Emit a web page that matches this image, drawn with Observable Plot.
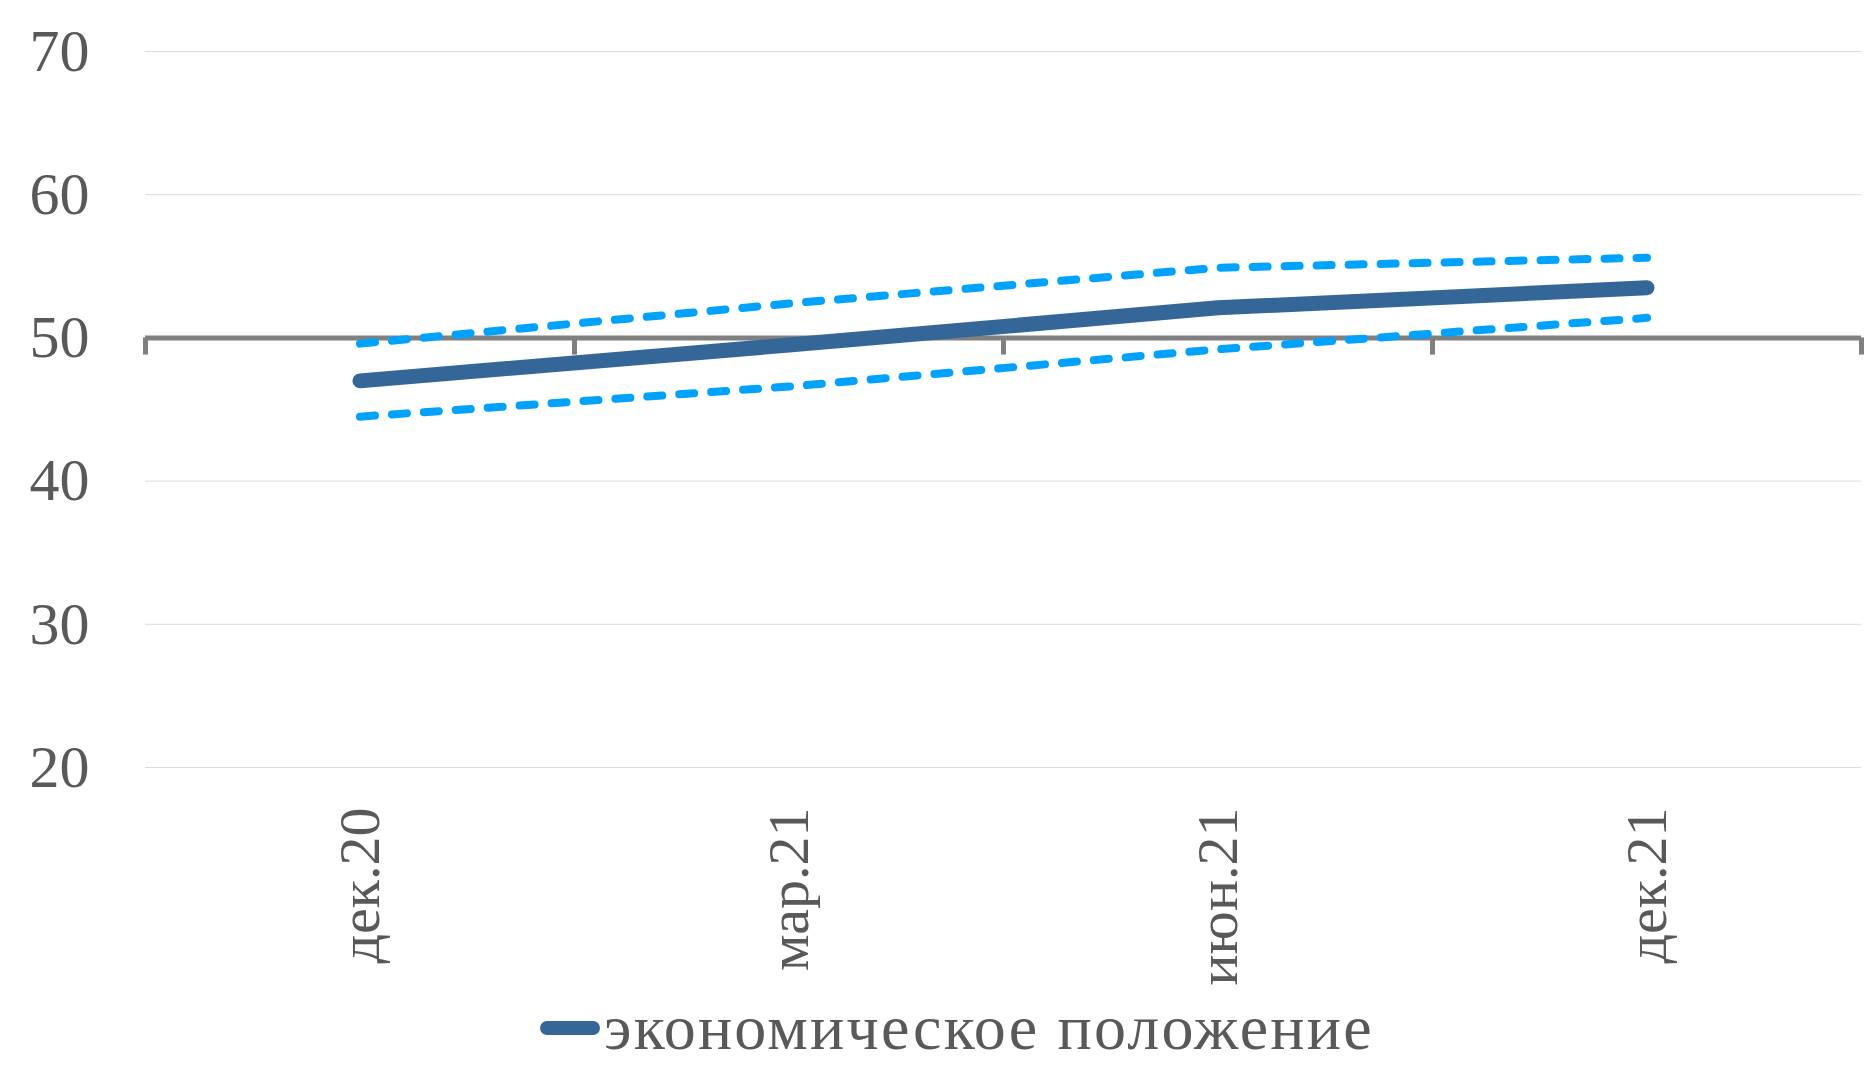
<!DOCTYPE html>
<html>
<head>
<meta charset="utf-8">
<script src="https://cdn.jsdelivr.net/npm/d3@7"></script>
<script src="https://cdn.jsdelivr.net/npm/@observablehq/plot@0.6"></script>
<style>
  html, body { margin: 0; padding: 0; background: #ffffff; }
  #chart { width: 1871px; }
  #legend { height: 76px; display: flex; align-items: center; padding-left: 540px;
            font-family: "Liberation Serif", serif; font-size: 64px; letter-spacing: 2.2px; color: #595959; line-height: 1; }
  #legend .sw { display: inline-block; width: 60px; height: 14px; border-radius: 7px; background: #356698; margin-right: 4px; }
</style>
</head>
<body>
<div id="chart"></div>
<div id="legend"><span class="sw"></span><span>экономическое положение</span></div>
<script>
const categories = ["дек.20", "мар.21", "июн.21", "дек.21"];
const mainValues = [47.0, 49.5, 52.1, 53.5];
const upperValues = [49.6, 52.4, 54.9, 55.6];
const lowerValues = [44.5, 46.6, 49.2, 51.4];
const yTicks = [20, 30, 40, 50, 60, 70];
const baseline = 50;

const rows = categories.map((c, i) => ({i, c, main: mainValues[i], upper: upperValues[i], lower: lowerValues[i]}));
const idx = d3.range(categories.length);
const boundaries = d3.range(categories.length + 1).map(i => i - 0.5);

const chart = Plot.plot({
  width: 1871,
  height: 990,
  marginLeft: 145,
  marginRight: 10,
  marginTop: 51,
  marginBottom: 223,
  x: {type: "linear", domain: [-0.5, categories.length - 0.5]},
  y: {domain: [20, 70]},
  style: {fontFamily: "Liberation Serif, serif", color: "#595959", background: "#ffffff"},
  marks: [
    Plot.ruleY(yTicks.filter(d => d !== baseline), {stroke: "#dcdcdc", strokeWidth: 1}),
    Plot.axisY(yTicks, {tickSize: 0, tickPadding: 56, fontSize: 60, fill: "#595959", label: null}),
    Plot.axisX(idx, {tickSize: 0, tickRotate: -90, tickPadding: 40, fontSize: 58, fill: "#595959",
                     tickFormat: i => categories[i], label: null}),
    Plot.ruleY([baseline], {stroke: "#808080", strokeWidth: 5}),
    Plot.ruleX(boundaries, {y1: baseline, y2: baseline - 1.2, stroke: "#808080", strokeWidth: 5}),
    Plot.line(rows, {x: "i", y: "upper", stroke: "#00a2ff", strokeWidth: 8, strokeDasharray: "15 17", strokeLinecap: "round"}),
    Plot.line(rows, {x: "i", y: "lower", stroke: "#00a2ff", strokeWidth: 8, strokeDasharray: "15 17", strokeLinecap: "round"}),
    Plot.line(rows, {x: "i", y: "main", stroke: "#356698", strokeWidth: 15, strokeLinecap: "round", strokeLinejoin: "round"})
  ]
});
document.getElementById("chart").appendChild(chart);
</script>
</body>
</html>
